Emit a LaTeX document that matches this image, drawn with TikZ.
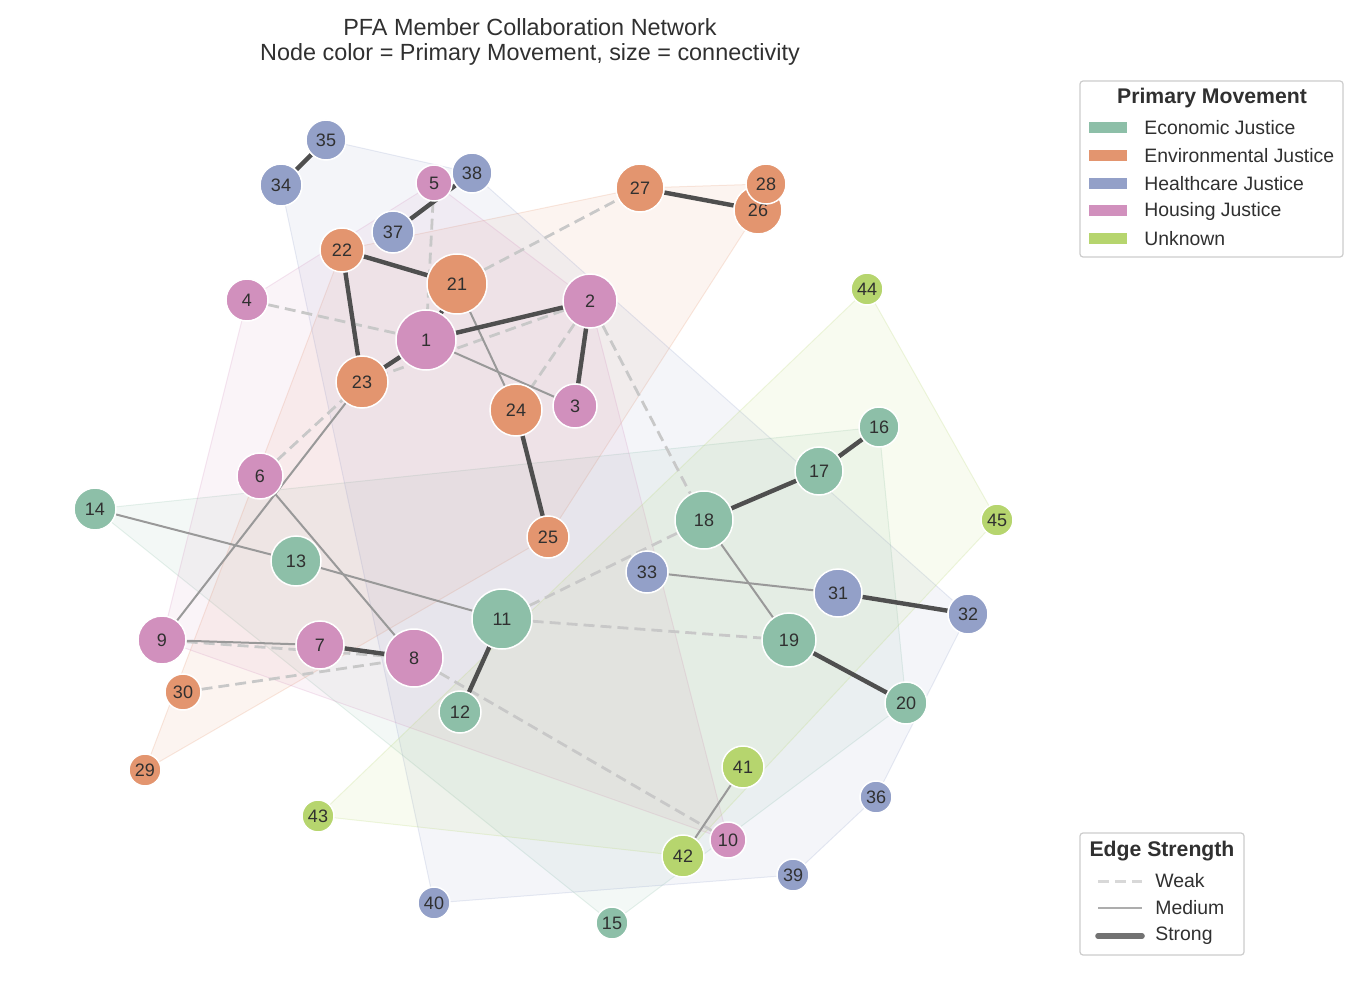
\documentclass[tikz,border=0pt]{standalone}
\usepackage{fontspec}
\setmainfont{Liberation Sans}
\definecolor{econcol}{HTML}{8DBFA8}
\definecolor{envcol}{HTML}{E3956F}
\definecolor{healthcol}{HTML}{93A0C8}
\definecolor{housecol}{HTML}{D190BD}
\definecolor{unkcol}{HTML}{B6D56E}
\definecolor{inkgray}{HTML}{303030}
\definecolor{strongcol}{HTML}{4F4F4F}
\definecolor{mediumcol}{HTML}{999999}
\definecolor{weakcol}{HTML}{C8C8C8}
\definecolor{framecol}{HTML}{CCCCCC}
\pgfdeclarelayer{hulls}
\pgfdeclarelayer{ties}
\pgfsetlayers{hulls,ties,main}

\begin{document}
\begin{tikzpicture}[x=0.5pt, y=-0.5pt]
    % Style definitions for members, ties and hulls
    \tikzset{member/.style={circle, draw=white, line width=0.75pt, inner sep=0pt,
             text=inkgray, font=\fontsize{9}{10}\selectfont},
             econ/.style={member, fill=econcol},
             enviro/.style={member, fill=envcol},
             health/.style={member, fill=healthcol},
             housing/.style={member, fill=housecol},
             unlabelled/.style={member, fill=unkcol},
             hull/.style={line width=0.5pt, fill opacity=0.1, draw opacity=0.22},
             legendbox/.style={rectangle, rounded corners=1.5pt, draw=framecol, line width=0.6pt,
             fill=white, fill opacity=0.8},
             legendtext/.style={anchor=west, inner sep=0pt, text=inkgray, font=\fontsize{9.7}{12}\selectfont},
             legendtitle/.style={text=inkgray, font=\fontsize{10.6}{12}\selectfont\bfseries},
             patch/.style={rectangle, inner sep=0pt, minimum width=19pt, minimum height=5.5pt}}
    \tikzstyle{strongtie} = [line width=2.2pt, strongcol]
    \tikzstyle{mediumtie} = [line width=1pt, mediumcol]
    \tikzstyle{weaktie} = [line width=1.4pt, weakcol, dash pattern=on 5.5pt off 3pt]

    \useasboundingbox (0,0) rectangle (1354,994);

    % Title
    \node (title) [text=inkgray, align=center, font=\fontsize{11.7}{12.5}\selectfont] at (530,42)
        {PFA Member Collaboration Network\\Node color = Primary Movement, size = connectivity};

    % Members - Housing Justice
    \node (n1) [housing, minimum size=30pt] at (426,340) {1};
    \node (n2) [housing, minimum size=27pt] at (590,301) {2};
    \node (n3) [housing, minimum size=22pt] at (575,406) {3};
    \node (n4) [housing, minimum size=21pt] at (247,300) {4};
    \node (n5) [housing, minimum size=18pt] at (434,183) {5};
    \node (n6) [housing, minimum size=23pt] at (260,476) {6};
    \node (n7) [housing, minimum size=24pt] at (320,645) {7};
    \node (n8) [housing, minimum size=29pt] at (414,658) {8};
    \node (n9) [housing, minimum size=24pt] at (162,640) {9};
    \node (n10) [housing, minimum size=18pt] at (728,840) {10};

    % Members - Economic Justice
    \node (n11) [econ, minimum size=30pt] at (502,619) {11};
    \node (n12) [econ, minimum size=21pt] at (460,712) {12};
    \node (n13) [econ, minimum size=25pt] at (296,561) {13};
    \node (n14) [econ, minimum size=21pt] at (95,509) {14};
    \node (n15) [econ, minimum size=16pt] at (612,923) {15};
    \node (n16) [econ, minimum size=20pt] at (879,427) {16};
    \node (n17) [econ, minimum size=24pt] at (819,471) {17};
    \node (n18) [econ, minimum size=29pt] at (704,520) {18};
    \node (n19) [econ, minimum size=27pt] at (789,640) {19};
    \node (n20) [econ, minimum size=21pt] at (906,703) {20};

    % Members - Environmental Justice
    \node (n21) [enviro, minimum size=30pt] at (457,284) {21};
    \node (n22) [enviro, minimum size=22pt] at (342,250) {22};
    \node (n23) [enviro, minimum size=26pt] at (362,382) {23};
    \node (n24) [enviro, minimum size=26pt] at (516,410) {24};
    \node (n25) [enviro, minimum size=21pt] at (548,537) {25};
    \node (n26) [enviro, minimum size=24pt] at (758,210) {26};
    \node (n27) [enviro, minimum size=24pt] at (640,188) {27};
    \node (n28) [enviro, minimum size=20pt] at (766,184) {28};
    \node (n29) [enviro, minimum size=16pt] at (145,770) {29};
    \node (n30) [enviro, minimum size=18pt] at (183,692) {30};

    % Members - Healthcare Justice
    \node (n31) [health, minimum size=24pt] at (838,593) {31};
    \node (n32) [health, minimum size=20pt] at (968,614) {32};
    \node (n33) [health, minimum size=21pt] at (647,572) {33};
    \node (n34) [health, minimum size=21pt] at (281,185) {34};
    \node (n35) [health, minimum size=20pt] at (326,140) {35};
    \node (n36) [health, minimum size=16pt] at (876,797) {36};
    \node (n37) [health, minimum size=21pt] at (393,232) {37};
    \node (n38) [health, minimum size=20pt] at (472,173) {38};
    \node (n39) [health, minimum size=16pt] at (793,875) {39};
    \node (n40) [health, minimum size=16pt] at (434,903) {40};

    % Members - Unknown
    \node (n41) [unlabelled, minimum size=21pt] at (743,767) {41};
    \node (n42) [unlabelled, minimum size=21pt] at (683,856) {42};
    \node (n43) [unlabelled, minimum size=16pt] at (318,816) {43};
    \node (n44) [unlabelled, minimum size=16pt] at (867,289) {44};
    \node (n45) [unlabelled, minimum size=16pt] at (997,520) {45};

    % Movement hulls
    \begin{pgfonlayer}{hulls}
    \filldraw [hull, draw=econcol, fill=econcol] (n14.center) -- (n16.center) -- (n20.center) -- (n15.center) -- cycle;
    \filldraw [hull, draw=envcol, fill=envcol] (n22.center) -- (n27.center) -- (n28.center) -- (n26.center)
        -- (n25.center) -- (n29.center) -- cycle;
    \filldraw [hull, draw=healthcol, fill=healthcol] (n35.center) -- (n38.center) -- (n32.center) -- (n36.center)
        -- (n39.center) -- (n40.center) -- (n34.center) -- cycle;
    \filldraw [hull, draw=housecol, fill=housecol] (n5.center) -- (n2.center) -- (n10.center) -- (n9.center)
        -- (n4.center) -- cycle;
    \filldraw [hull, draw=unkcol, fill=unkcol] (n44.center) -- (n45.center) -- (n42.center) -- (n43.center) -- cycle;
    \end{pgfonlayer}

    % Collaboration ties
    \begin{pgfonlayer}{ties}
    \draw [weaktie] (n4) -- (n1);
    \draw [weaktie] (n5) -- (n1);
    \draw [weaktie] (n21) -- (n27);
    \draw [weaktie] (n2) -- (n23);
    \draw [weaktie] (n2) -- (n24);
    \draw [weaktie] (n2) -- (n18);
    \draw [weaktie] (n6) -- (n23);
    \draw [weaktie] (n9) -- (n8);
    \draw [weaktie] (n30) -- (n8);
    \draw [weaktie] (n8) -- (n10);
    \draw [weaktie] (n11) -- (n18);
    \draw [weaktie] (n11) -- (n19);

    \draw [mediumtie] (n21) -- (n24);
    \draw [mediumtie] (n1) -- (n3);
    \draw [mediumtie] (n23) -- (n9);
    \draw [mediumtie] (n6) -- (n8);
    \draw [mediumtie] (n14) -- (n13);
    \draw [mediumtie] (n13) -- (n11);
    \draw [mediumtie] (n9) -- (n7);
    \draw [mediumtie] (n33) -- (n31);
    \draw [mediumtie] (n18) -- (n19);
    \draw [mediumtie] (n41) -- (n42);

    \draw [strongtie] (n34) -- (n35);
    \draw [strongtie] (n37) -- (n38);
    \draw [strongtie] (n22) -- (n21);
    \draw [strongtie] (n22) -- (n23);
    \draw [strongtie] (n1) -- (n23);
    \draw [strongtie] (n1) -- (n2);
    \draw [strongtie] (n1) -- (n21);
    \draw [strongtie] (n2) -- (n3);
    \draw [strongtie] (n24) -- (n25);
    \draw [strongtie] (n27) -- (n26);
    \draw [strongtie] (n16) -- (n17);
    \draw [strongtie] (n17) -- (n18);
    \draw [strongtie] (n31) -- (n32);
    \draw [strongtie] (n19) -- (n20);
    \draw [strongtie] (n11) -- (n12);
    \draw [strongtie] (n7) -- (n8);
    \end{pgfonlayer}

    % Legend - Primary Movement
    \node (movebox) [legendbox, minimum width=131.5pt, minimum height=88pt] at (1211.5,169) {};
    \node (movetitle) [legendtitle] at (1212,98) {Primary Movement};
    \node (patch1) [patch, fill=econcol] at (1108,128) {};
    \node (patch2) [patch, fill=envcol] at (1108,156) {};
    \node (patch3) [patch, fill=healthcol] at (1108,184) {};
    \node (patch4) [patch, fill=housecol] at (1108,211) {};
    \node (patch5) [patch, fill=unkcol] at (1108,239) {};
    \node (entry1) [legendtext] at (1144,128) {Economic Justice};
    \node (entry2) [legendtext] at (1144,156) {Environmental Justice};
    \node (entry3) [legendtext] at (1144,184) {Healthcare Justice};
    \node (entry4) [legendtext] at (1144,211) {Housing Justice};
    \node (entry5) [legendtext] at (1144,239) {Unknown};

    % Legend - Edge Strength
    \node (tiebox) [legendbox, minimum width=82pt, minimum height=61pt] at (1162,894) {};
    \node (tietitle) [legendtitle] at (1162,851) {Edge Strength};
    \coordinate (weakA) at (1098,881);
    \coordinate (weakB) at (1142,881);
    \coordinate (mediumA) at (1098,908);
    \coordinate (mediumB) at (1142,908);
    \coordinate (strongA) at (1098,936);
    \coordinate (strongB) at (1142,936);
    \draw [weaktie, weakcol!70, line width=1.5pt] (weakA) -- (weakB);
    \draw [mediumtie, mediumcol!80, line width=0.8pt] (mediumA) -- (mediumB);
    \draw [strongtie, strongcol!80, line width=2.8pt, line cap=round] (strongA) -- (strongB);
    \node (tieweak) [legendtext] at (1155,881) {Weak};
    \node (tiemedium) [legendtext] at (1155,908) {Medium};
    \node (tiestrong) [legendtext] at (1155,936) {Strong};

\end{tikzpicture}
\end{document}
